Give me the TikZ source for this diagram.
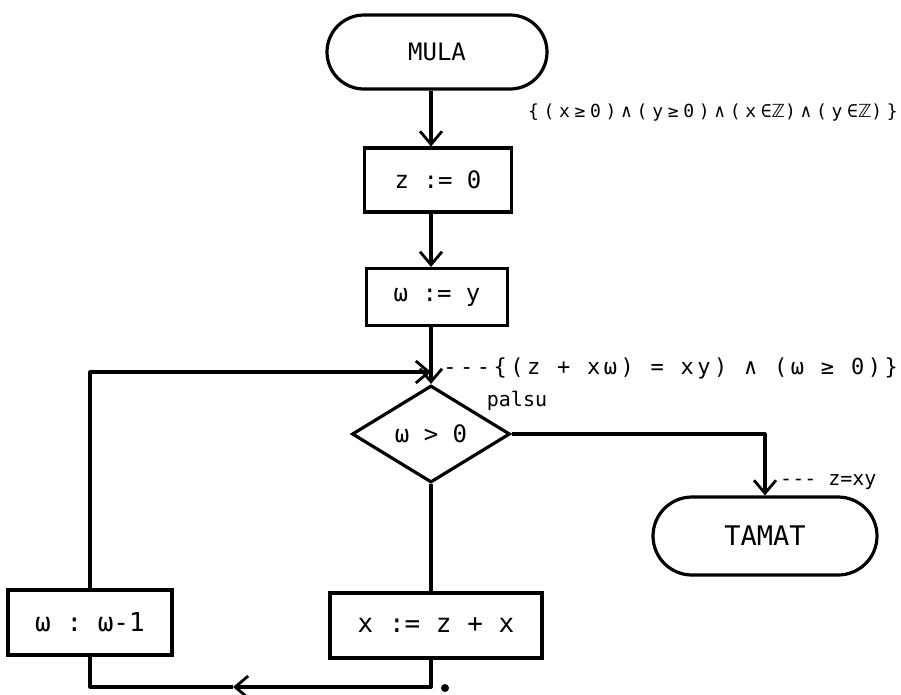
\documentclass[tikz,border=0pt]{standalone}
\usepackage{fontspec}
\setmainfont{DejaVu Sans}
\setmonofont{DejaVu Sans Mono}
\newfontfamily\zfont{DejaVu Sans}
\newfontfamily\spacedmono[LetterSpace=26]{DejaVu Sans Mono}
\newfontfamily\spacedmonob[LetterSpace=16]{DejaVu Sans Mono}
\usetikzlibrary{arrows.meta,shapes.geometric}
\begin{document}
\begin{tikzpicture}[x=1pt,y=-1pt,
  lw/.style={line width=3.2pt},
  flow/.style={lw, line join=round},
  arr/.style={-{Straight Barb[length=13pt,width=22pt,line width=2.8pt]}},
  proc/.style={draw, lw, inner sep=0pt},
  term/.style={draw, lw, inner sep=0pt},
  fs/.style={font=\ttfamily\fontsize{#1}{#1}\selectfont},
  lbl/.style={inner sep=0pt},
]
\fill[white] (0,0) rectangle (901,694);
\useasboundingbox (0,0) rectangle (901,694);

% nodes
\node[term, minimum width=220pt, minimum height=74pt, rounded corners=37pt, fs=24] (mula) at (437,52) {MULA};
\node[proc, minimum width=147pt, minimum height=64pt, fs=24] (zbox) at (438,180) {z := 0};
\node[proc, minimum width=141pt, minimum height=57pt, fs=24] (wbox) at (437,297) {ω := y};
\node[draw, lw, shape=diamond, inner sep=0pt, minimum width=158pt, minimum height=97pt, fs=24] (dec) at (431,434) {ω > 0};
\node[proc, minimum width=212pt, minimum height=65pt, fs=26] (xbox) at (436,625.5) {x := z + x};
\node[proc, minimum width=164pt, minimum height=65pt, fs=26] (dbox) at (90,622.5) {ω : ω-1};
\node[term, minimum width=224pt, minimum height=78pt, rounded corners=39pt, fs=27] (tamat) at (765,536) {TAMAT};

% labels
\node[lbl, anchor=east, font=\spacedmono\fontsize{18}{18}\selectfont] (pre) at (898,113) {\{(x≥0)∧(y≥0)∧(x∈{\zfont ℤ})∧(y∈{\zfont ℤ})\}};
\node[lbl, anchor=east, font=\spacedmonob\fontsize{22}{22}\selectfont] (inv) at (898,368) {-{}-{}-\{(z + xω) = xy) ∧ (ω ≥ 0)\}};
\node[lbl, fs=20] (palsu) at (517,401) {palsu};
\node[lbl, anchor=west, fs=20] (post) at (780,482) {-{}-{}- z=xy};
\node[circle, fill, inner sep=0pt, minimum size=8pt] (dot) at (445,688) {};

% coordinates
\coordinate (col) at (431,0);
\coordinate (J) at (431,372);
\coordinate (M) at (233,687);

% connectors
\draw[flow,arr] (mula.south -| col) -- (zbox.north -| col);
\draw[flow,arr] (zbox.south -| col) -- (wbox.north -| col);
\draw[flow,arr] (wbox.south -| col) -- (dec.north);
\draw[flow,arr] (dbox.north) |- (J);
\draw[flow] (dec.south) -- (xbox.north -| dec.south);
\draw[flow,arr] (xbox.south -| dec.south) |- (M);
\draw[flow] (M) -| (dbox.south);
\draw[flow,arr] (dec.east) -| (tamat.north);
\end{tikzpicture}
\end{document}
